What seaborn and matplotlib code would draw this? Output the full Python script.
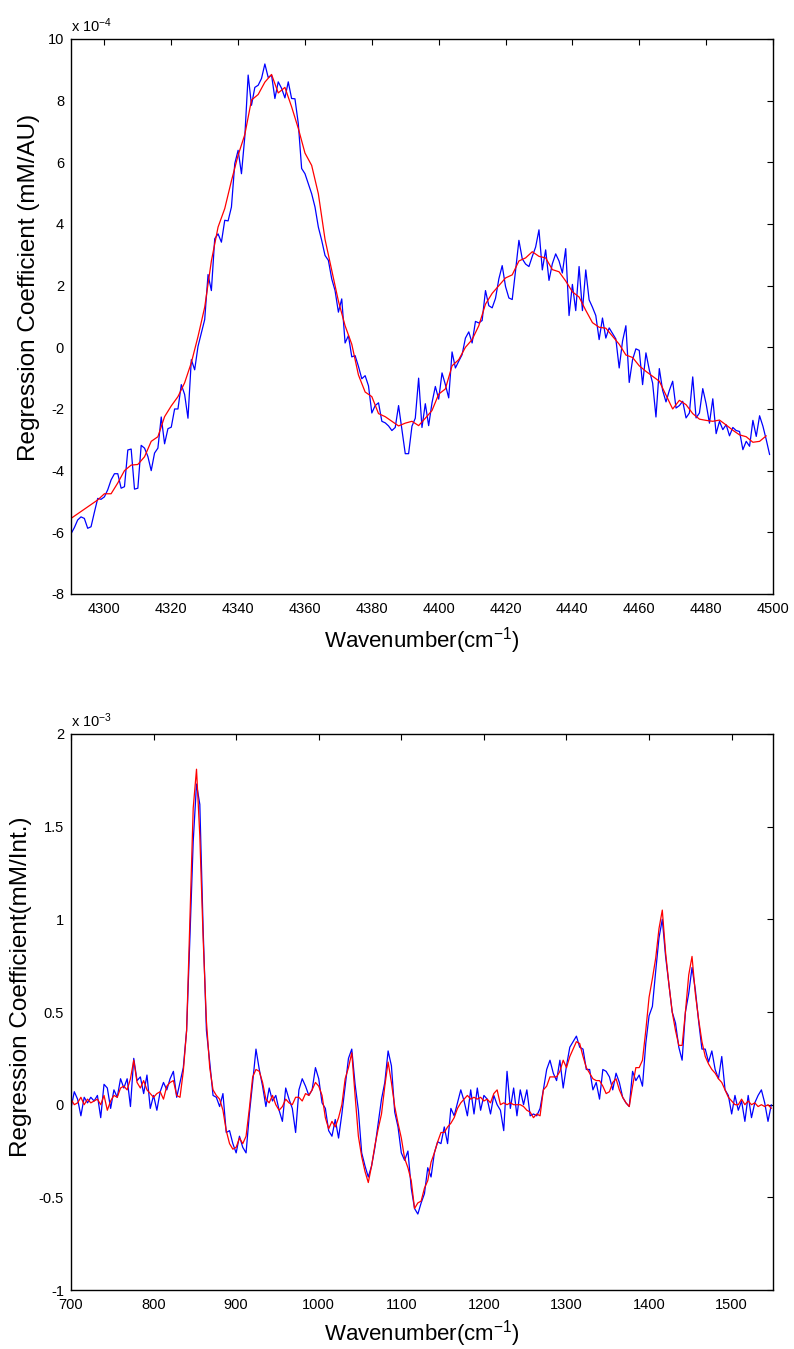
import numpy as np
import pandas as pd
import matplotlib
matplotlib.use('Agg')
import matplotlib.pyplot as plt
import seaborn as sns
from matplotlib.ticker import FuncFormatter

# ---- top panel: NIR region, values in units of 1e-4 ----
top_start, top_step = 4290, 1
top_blue = [
    -6.05, -5.85, -5.6, -5.5, -5.55, -5.87, -5.82, -5.35, -4.9, -4.93,
    -4.85, -4.62, -4.3, -4.1, -4.1, -4.57, -4.52, -3.33, -3.3, -4.6,
    -4.57, -3.18, -3.27, -3.54, -4.0, -3.43, -3.27, -2.26, -3.13, -2.64,
    -2.59, -2.0, -2.0, -1.21, -1.53, -2.3, -0.4, -0.73, 0.03, 0.46,
    0.9, 2.36, 1.84, 3.52, 3.68, 3.41, 4.12, 4.1, 4.55, 5.96,
    6.39, 5.63, 6.83, 8.83, 7.85, 8.43, 8.5, 8.72, 9.19, 8.75,
    8.83, 8.07, 8.61, 8.4, 8.09, 8.61, 8.07, 8.06, 7.26, 5.8,
    5.63, 5.31, 4.98, 4.55, 3.9, 3.47, 2.98, 2.82, 2.22, 1.84,
    1.14, 1.57, 0.14, 0.38, -0.31, -0.27, -0.62, -1.02, -0.92, -1.25,
    -2.13, -1.89, -1.8, -2.4, -2.45, -2.55, -2.7, -2.6, -1.89, -2.67,
    -3.45, -3.45, -2.56, -2.3, -1.0, -2.6, -1.83, -2.54, -1.8, -1.27,
    -1.68, -0.83, -1.21, -1.64, -0.15, -0.67, -0.45, -0.24, 0.3, 0.5,
    0.14, 0.84, 0.79, 0.87, 1.84, 1.35, 1.28, 1.59, 2.22, 2.65,
    1.97, 1.6, 1.55, 2.49, 3.47, 2.87, 2.7, 2.62, 2.95, 3.25,
    3.81, 2.51, 3.16, 2.17, 2.71, 3.03, 2.8, 2.41, 3.2, 1.03,
    2.04, 1.19, 2.62, 1.19, 2.51, 1.54, 1.3, 1.03, 0.25, 0.95,
    0.3, 0.63, 0.45, 0.27, -0.67, 0.2, 0.7, -1.14, -0.4, -0.05,
    -0.1, -1.21, -0.18, -0.73, -1.16, -2.26, -0.69, -1.4, -1.77, -1.4,
    -1.1, -1.97, -1.89, -1.75, -2.29, -2.13, -0.96, -2.29, -2.13, -1.34,
    -1.83, -2.46, -1.67, -2.8, -2.4, -2.67, -2.51, -2.87, -2.6, -2.7,
    -2.73, -3.32, -3.05, -3.21, -2.37, -2.89, -2.22, -2.56, -3.0, -3.48,
]
top_red_step = 2
top_red = [
    -5.55, -5.4, -5.25, -5.1, -4.95, -4.75, -4.75, -4.4, -4.0, -3.82,
    -3.8, -3.55, -3.05, -2.9, -2.25, -1.9, -1.6, -1.15, -0.5, 0.35,
    1.3, 2.8, 3.9, 4.5, 5.4, 6.23, 6.9, 8.02, 8.2, 8.6,
    8.85, 8.25, 8.43, 7.8, 7.1, 6.3, 5.9, 4.98, 3.5, 2.5,
    1.5, 0.7, 0.1, -0.9, -1.45, -1.6, -2.15, -2.25, -2.4, -2.55,
    -2.46, -2.4, -2.54, -2.3, -2.05, -1.52, -1.35, -0.6, -0.4, 0.0,
    0.25, 0.7, 1.4, 1.75, 2.0, 2.25, 2.35, 2.8, 2.9, 3.1,
    2.95, 2.9, 2.52, 2.45, 2.15, 1.8, 1.63, 1.2, 0.8, 0.65,
    0.62, 0.36, 0.1, -0.25, -0.33, -0.6, -0.78, -0.94, -1.1, -1.55,
    -2.0, -1.72, -1.86, -2.15, -2.33, -2.37, -2.4, -2.36, -2.52, -2.69,
    -2.84, -2.9, -3.08, -3.05, -2.87,
]

# ---- bottom panel: Raman region, values in units of 1e-3 ----
bot_start, bot_step = 700, 4
bot_blue = [
    -0.02, 0.07, 0.03, -0.06, 0.04, 0.01, 0.04, 0.02, 0.05, -0.07,
    0.11, 0.09, -0.02, 0.08, 0.04, 0.14, 0.09, 0.14, -0.01, 0.25,
    0.13, 0.15, 0.06, 0.16, -0.02, 0.05, -0.03, 0.07, 0.12, 0.08,
    0.14, 0.18, 0.04, 0.12, 0.2, 0.4, 0.9, 1.42, 1.73, 1.62,
    0.95, 0.4, 0.23, 0.05, 0.04, -0.01, 0.06, -0.15, -0.14, -0.21,
    -0.26, -0.17, -0.23, -0.26, -0.05, 0.12, 0.3, 0.19, 0.1, -0.01,
    0.09, 0.02, 0.05, -0.03, -0.09, 0.09, 0.03, -0.02, -0.15, 0.08,
    0.14, 0.1, 0.05, 0.08, 0.2, 0.14, 0.01, -0.02, -0.14, -0.17,
    -0.08, -0.18, -0.05, 0.1, 0.25, 0.3, 0.11, -0.03, -0.26, -0.33,
    -0.39, -0.33, -0.23, -0.1, 0.03, 0.12, 0.29, 0.21, -0.04, -0.12,
    -0.26, -0.3, -0.25, -0.45, -0.56, -0.59, -0.53, -0.48, -0.34, -0.39,
    -0.26, -0.2, -0.21, -0.12, -0.21, -0.02, -0.06, 0.01, 0.08, 0.02,
    -0.06, 0.08, -0.05, 0.09, -0.03, 0.05, 0.03, -0.05, 0.05, 0.0,
    -0.03, -0.14, 0.18, -0.02, 0.09, -0.06, 0.08, 0.0, 0.08, -0.06,
    -0.05, -0.06, -0.02, 0.08, 0.19, 0.24, 0.17, 0.13, 0.24, 0.09,
    0.21, 0.31, 0.34, 0.37, 0.31, 0.3, 0.19, 0.19, 0.08, 0.12,
    0.03, 0.19, 0.18, 0.15, 0.08, 0.17, 0.12, 0.04, 0.01, -0.01,
    0.18, 0.13, 0.16, 0.1, 0.33, 0.48, 0.53, 0.72, 0.9, 1.0,
    0.8, 0.65, 0.5, 0.44, 0.31, 0.24, 0.5, 0.6, 0.74, 0.62,
    0.45, 0.3, 0.3, 0.23, 0.29, 0.19, 0.14, 0.26, 0.08, 0.05,
    -0.05, 0.05, -0.03, 0.02, -0.09, 0.05, -0.07, 0.01, 0.05, 0.08,
    0.01, -0.09, 0.0,
]
bot_red = [
    0.03, 0.0, 0.01, 0.04, 0.0, 0.03, 0.01, 0.02, 0.03, 0.0,
    0.05, -0.03, 0.02, 0.05, 0.04, 0.09, 0.1, 0.08, 0.14, 0.24,
    0.12, 0.09, 0.13, 0.08, 0.06, 0.04, 0.06, 0.07, 0.03, 0.1,
    0.12, 0.13, 0.05, 0.04, 0.18, 0.4, 1.0, 1.6, 1.81, 1.45,
    0.9, 0.45, 0.2, 0.08, 0.05, 0.03, -0.03, -0.14, -0.21, -0.24,
    -0.23, -0.18, -0.21, -0.17, -0.02, 0.15, 0.19, 0.18, 0.12, 0.03,
    0.01, 0.05, 0.0, -0.03, -0.01, 0.03, 0.01, 0.0, 0.04, 0.04,
    0.02, 0.06, 0.05, 0.08, 0.12, 0.1, 0.05, -0.07, -0.13, -0.09,
    -0.12, -0.07, 0.0, 0.14, 0.2, 0.28, 0.05, -0.17, -0.28, -0.36,
    -0.42, -0.33, -0.22, -0.13, -0.05, 0.1, 0.23, 0.12, -0.01, -0.1,
    -0.18, -0.29, -0.34, -0.41, -0.56, -0.53, -0.52, -0.45, -0.41, -0.31,
    -0.26, -0.2, -0.15, -0.15, -0.12, -0.1, -0.07, -0.02, 0.01, 0.03,
    0.05, 0.03, 0.04, 0.03, 0.04, 0.02, 0.03, 0.01, 0.06, 0.08,
    0.0, 0.01, 0.0, 0.01, 0.0, 0.0, 0.0, -0.01, -0.03, -0.04,
    -0.07, -0.05, -0.06, 0.08, 0.1, 0.15, 0.15, 0.15, 0.18, 0.24,
    0.2, 0.26, 0.3, 0.34, 0.33, 0.26, 0.2, 0.17, 0.14, 0.13,
    0.13, 0.1, 0.06, 0.07, 0.12, 0.14, 0.08, 0.04, 0.01, -0.01,
    0.1, 0.2, 0.2, 0.24, 0.4, 0.58, 0.68, 0.79, 0.95, 1.05,
    0.82, 0.65, 0.5, 0.4, 0.32, 0.32, 0.5, 0.7, 0.8, 0.6,
    0.46, 0.34, 0.26, 0.22, 0.19, 0.17, 0.14, 0.12, 0.08, 0.04,
    0.02, 0.0, 0.0, 0.03, 0.0, 0.02, 0.0, 0.01, -0.01, 0.0,
    -0.01, 0.0, -0.02,
]

top_xticks = list(range(4300, 4501, 20))
top_yticks = list(range(-8, 11, 2))
bot_xticks = list(range(700, 1501, 100))
bot_yticks = [-1, -0.5, 0, 0.5, 1, 1.5, 2]


def axis_x(start, step, vals):
    return start + step * np.arange(len(vals))


sns.set_style('white')
plt.rcParams['font.family'] = ['Liberation Sans', 'DejaVu Sans']
plt.rcParams['mathtext.fontset'] = 'custom'
plt.rcParams['mathtext.rm'] = 'Liberation Sans'
plt.rcParams['mathtext.it'] = 'Liberation Sans:italic'
plt.rcParams['axes.unicode_minus'] = False
plt.rcParams['text.color'] = 'black'
plt.rcParams['axes.labelcolor'] = 'black'

fig = plt.figure(figsize=(7.94, 13.49), dpi=100)
ax1 = fig.add_axes([0.0894, 0.5597, 0.8841, 0.4114])
ax2 = fig.add_axes([0.0894, 0.0437, 0.8841, 0.4122])

sns.lineplot(x=axis_x(top_start, top_step, top_blue), y=top_blue, color='#0000ff', lw=0.9, ax=ax1)
sns.lineplot(x=axis_x(top_start, top_red_step, top_red), y=top_red, color='#ff0000', lw=0.9, ax=ax1)
sns.lineplot(x=axis_x(bot_start, bot_step, bot_blue), y=bot_blue, color='#0000ff', lw=0.9, ax=ax2)
sns.lineplot(x=axis_x(bot_start, bot_step, bot_red), y=bot_red, color='#ff0000', lw=0.9, ax=ax2)

fmt = FuncFormatter(lambda v, p: '%g' % v)
panels = [
    (ax1, (4290, 4500), (-8, 10), top_xticks, top_yticks,
     'Regression Coefficient (mM/AU)', '-4', (-0.044, 0.553), -0.057),
    (ax2, (700, 1550), (-1, 2), bot_xticks, bot_yticks,
     'Regression Coefficient(mM/Int.)', '-3', (-0.0556, 0.545), -0.05),
]
for ax, xl, yl, xt, yt, ylab, exp, ypos, xpos in panels:
    ax.set_xlim(*xl)
    ax.set_ylim(*yl)
    ax.set_xticks(xt)
    ax.set_yticks(yt)
    ax.yaxis.set_major_formatter(fmt)
    ax.tick_params(direction='in', top=True, right=True, length=4, width=0.8,
                   labelsize=10.5, colors='black')
    ax.tick_params(axis='x', pad=6)
    ax.tick_params(axis='y', pad=5)
    for s in ax.spines.values():
        s.set_color('black')
        s.set_linewidth(1.0)
    ax.set_xlabel('Wavenumber(cm$^{\\mathrm{-1}}$)', fontsize=16)
    ax.xaxis.set_label_coords(0.5, xpos)
    ax.set_ylabel(ylab, fontsize=17.5)
    ax.yaxis.set_label_coords(*ypos)
    ax.text(0.0, 1.013, 'x 10$^{' + exp + '}$', transform=ax.transAxes, fontsize=10.5,
            ha='left', va='baseline')

fig.savefig('out.png', dpi=100, facecolor='white')
